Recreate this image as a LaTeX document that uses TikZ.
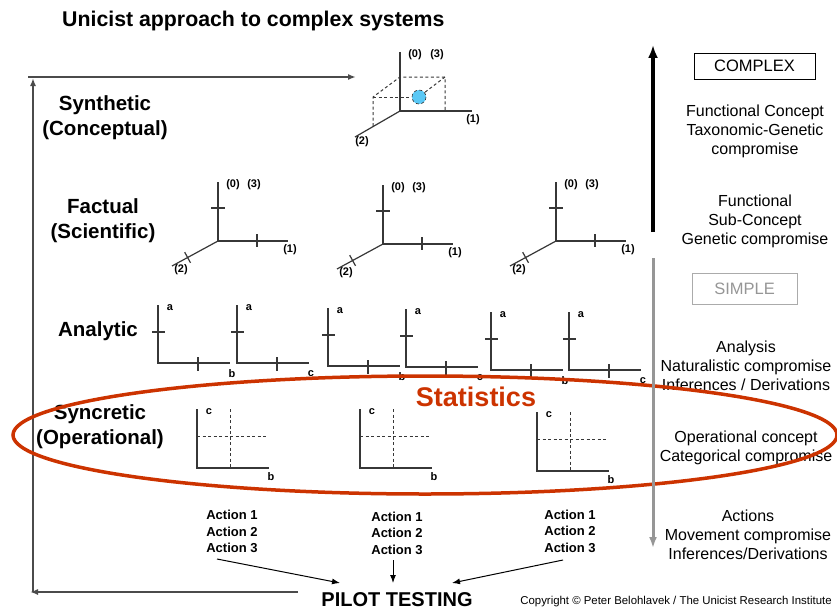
\documentclass[tikz,border=0pt]{standalone}
\usepackage{fontspec}
\setmainfont{Liberation Sans}
\usetikzlibrary{arrows.meta}
\definecolor{redS}{RGB}{204,51,0}
\definecolor{axisgray}{RGB}{55,55,55}
\definecolor{framegray}{RGB}{75,75,75}
\definecolor{ballblue}{RGB}{90,200,245}
\definecolor{lightgray}{RGB}{150,150,150}
\tikzset{
 ax/.style={draw=axisgray, line width=1.2},
 dsh/.style={draw=axisgray, dash pattern=on 3pt off 2.5pt, line width=1},
 lbl/.style={font=\fontsize{11}{13}\selectfont\bfseries, inner sep=0},
 level/.style={font=\fontsize{20.5}{25}\selectfont\bfseries, align=center, inner sep=0},
 side/.style={font=\fontsize{16}{18.8}\selectfont, align=center, inner sep=0},
 action/.style={font=\fontsize{13}{16.5}\selectfont\bfseries, align=center, inner sep=0},
 frame/.style={draw=framegray, line width=2, -{Latex[length=8pt,width=6pt]}},
 flow/.style={draw=black, line width=1, -{Latex[length=8pt,width=6pt]}},
 factual/.pic={
  \draw[ax] (0,-59) -- (0,0) -- (70,0);
  \draw[ax] (0,0) -- (-46,25);
  \draw[ax] (-7,-33) -- (7,-33);
  \draw[ax] (39,-7) -- (39,6);
  \draw[ax] (-33.3,11.2) -- (-27.5,21.8);
  \node[lbl] (l0) at (15,-56) {(0)};
  \node[lbl] (l3) at (36,-56) {(3)};
  \node[lbl] (l1) at (72,9) {(1)};
  \node[lbl] (l2) at (-37,29) {(2)};
 },
 synthetic/.pic={
  \draw[ax] (0,-59) -- (0,0) -- (72,0);
  \draw[ax] (0,0) -- (-45,26);
  \draw[dsh] (-27,15) -- (-27,-14) -- (0,-34) -- (45,-34) -- (45,0);
  \draw[dsh] (-27,-14) -- (12,-14);
  \draw[dsh] (45,-34) -- (24,-18);
  \fill[ballblue] (19,-14) circle (7);
  \draw[dsh, line width=0.6] (19,-14) circle (7);
  \node[lbl] (l0) at (15,-56) {(0)};
  \node[lbl] (l3) at (37,-56) {(3)};
  \node[lbl] (l1) at (73,9) {(1)};
  \node[lbl] (l2) at (-38,31) {(2)};
 },
 analytic/.pic={
  \draw[ax] (0,-58) -- (0,0) -- (72,0);
  \draw[ax] (-6,-31) -- (7,-31);
  \draw[ax] (40,-6) -- (40,8);
  \node[lbl] (la) at (12,-55) {a};
  \node[lbl] (lx) at (74,11) {#1};
 },
 syncretic/.pic={
  \draw[ax] (0,-59) -- (0,0) -- (72,0);
  \draw[dsh] (0,-32) -- (70,-32);
  \draw[dsh] (33,-59) -- (33,0);
  \node[lbl] (lc) at (12,-56) {c};
  \node[lbl] (lb) at (74,9) {b};
 },
}
\begin{document}
\begin{tikzpicture}[x=1pt,y=-1pt]
\useasboundingbox (0,0) rectangle (837,610);
% title
\node[anchor=base west, inner sep=0, font=\fontsize{21.3}{25}\selectfont\bfseries] (title) at (62,27) {Unicist approach to complex systems};
% frame arrows
\coordinate (fb1) at (298,592);
\coordinate (fb2) at (30,592);
\coordinate (fv1) at (33,592);
\coordinate (fv2) at (33,78);
\coordinate (ft1) at (28,77);
\coordinate (ft2) at (356,77);
\draw[frame] (fb1) -- (fb2);
\draw[frame] (fv1) -- (fv2);
\draw[frame] (ft1) -- (ft2);
% level labels
\node[level] (synth) at (105,117.5) {Synthetic\\(Conceptual)};
\node[level] (fact) at (103,220.5) {Factual\\(Scientific)};
\node[level] (anal) at (98,331.5) {Analytic};
\node[level] (sync) at (100,427) {Syncretic\\(Operational)};
% diagrams
\pic (s1) at (400,111) {synthetic};
\pic (f1) at (218,241) {factual};
\pic (f2) at (383,244) {factual};
\pic (f3) at (556,241) {factual};
\pic (a1) at (158,363) {analytic=b};
\pic (a2) at (237,363) {analytic=c};
\pic (a3) at (328,366) {analytic=b};
\pic (a4) at (406,367) {analytic=c};
\pic (a5) at (491,370) {analytic=b};
\pic (a6) at (569,370) {analytic=c};
\pic (y1) at (197,468) {syncretic};
\pic (y2) at (360,468) {syncretic};
\pic (y3) at (537,471) {syncretic};
% right column
\node[draw=black, line width=0.8, minimum width=121, minimum height=26, font=\fontsize{16.5}{19}\selectfont, inner sep=0] (complex) at (754.5,66) {COMPLEX};
\node[side] (t1) at (755,131.5) {Functional Concept\\Taxonomic-Genetic\\compromise};
\node[side] (t2) at (755,221.5) {Functional\\Sub-Concept\\Genetic compromise};
\node[draw=lightgray!80, line width=0.8, text=lightgray, minimum width=105, minimum height=31, font=\fontsize{16.5}{19}\selectfont, inner sep=0] (simple) at (744.5,288.5) {SIMPLE};
\node[side] (t3) at (746,366) {Analysis\\Naturalistic compromise\\Inferences / Derivations};
\node[side] (t4) at (746,447.5) {Operational concept\\Categorical compromise};
\node[side] (t5) at (748,535) {Actions\\Movement compromise\\Inferences/Derivations};
\coordinate (up1) at (653,232);
\coordinate (up2) at (653,45);
\coordinate (dn1) at (653,258);
\coordinate (dn2) at (653,548);
\draw[line width=3.5, -{Latex[length=13pt,width=10pt]}] (up1) -- (up2);
% actions
\node[action] (act1) at (232,531.5) {Action 1\\Action 2\\Action 3};
\node[action] (act2) at (397,533) {Action 1\\Action 2\\Action 3};
\node[action] (act3) at (570,531) {Action 1\\Action 2\\Action 3};
\node[anchor=base, inner sep=0, font=\fontsize{20}{24}\selectfont\bfseries] (pilot) at (397,606) {PILOT TESTING};
\coordinate (s1a) at (217,559);
\coordinate (e1a) at (340,583);
\coordinate (s2a) at (393,560);
\coordinate (e2a) at (393,583);
\coordinate (s3a) at (563,560);
\coordinate (e3a) at (452,583);
\draw[flow] (s1a) -- (e1a);
\draw[flow] (s2a) -- (e2a);
\draw[flow] (s3a) -- (e3a);
\node[anchor=base, inner sep=0, font=\fontsize{11.4}{13}\selectfont] (copy) at (676,604) {Copyright \textcopyright{} Peter Belohlavek / The Unicist Research Institute};
% statistics ellipse
\node[inner sep=0, text=redS, font=\fontsize{27}{30}\selectfont\bfseries] (stat) at (476,397) {Statistics};
\draw[redS, line width=3.5] (425,435) ellipse [x radius=412, y radius=59];
\draw[draw=lightgray, line width=3, -{Latex[length=11pt,width=8pt]}] (dn1) -- (dn2);
\end{tikzpicture}
\end{document}
